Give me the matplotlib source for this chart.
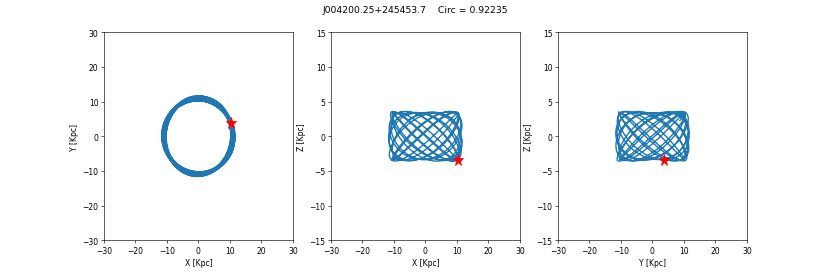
import matplotlib
matplotlib.use("Agg")
import matplotlib.pyplot as plt
import numpy as np

# star name / circularity shown in the title
star_name = "J004200.25+245453.7"
circularity = 0.92235

# present-day position of the star [kpc] (red star marker)
star_pos = [10.5, 3.8, -3.4]
# present-day velocity [km/s] (vx, vy, vz)
star_vel = [-56.0, 198.0, 22.0]

# logarithmic halo potential parameters
v0 = 220.0      # km/s
q_flat = 0.78   # vertical flattening
r_core = 1.0    # kpc

t_total = 4.0   # kpc/(km/s)
dt = 0.0005


def accel(p):
    x, y, z = p
    d = r_core**2 + x**2 + y**2 + (z / q_flat) ** 2
    return -v0**2 * np.array([x / d, y / d, z / (q_flat**2 * d)])


# leapfrog integration of the orbit from the star's phase-space point
n_steps = int(t_total / dt)
pos = np.array(star_pos, dtype=float)
vel = np.array(star_vel, dtype=float)
track = np.empty((n_steps + 1, 3))
track[0] = pos
a = accel(pos)
for i in range(n_steps):
    vel = vel + 0.5 * dt * a
    pos = pos + dt * vel
    a = accel(pos)
    vel = vel + 0.5 * dt * a
    track[i + 1] = pos

xs, ys, zs = track[:, 0], track[:, 1], track[:, 2]

fig, axes = plt.subplots(1, 3, figsize=(15, 5.006), dpi=55.333)
fig.subplots_adjust(bottom=0.129)

panels = [
    (xs, ys, star_pos[0], star_pos[1], "X [Kpc]", "Y [Kpc]", (-30, 30)),
    (xs, zs, star_pos[0], star_pos[2], "X [Kpc]", "Z [Kpc]", (-15, 15)),
    (ys, zs, star_pos[1], star_pos[2], "Y [Kpc]", "Z [Kpc]", (-15, 15)),
]
for ax, (h, v, sh, sv, xl, yl, ylim) in zip(axes, panels):
    ax.plot(h, v, color="#1f77b4", linewidth=1.8)
    ax.plot(sh, sv, "*", color="red", markersize=15)
    ax.set_xlim(-30, 30)
    ax.set_ylim(*ylim)
    ax.set_xlabel(xl)
    ax.set_ylabel(yl)

fig.suptitle(f"{star_name}    Circ = {circularity}")
fig.savefig("out.png", dpi=55.333)
